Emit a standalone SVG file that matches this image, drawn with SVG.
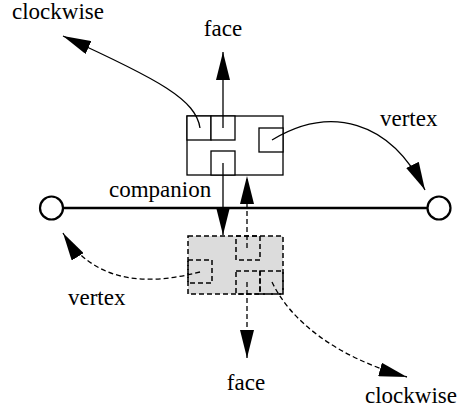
<svg xmlns="http://www.w3.org/2000/svg" width="460" height="411" viewBox="0 0 460 411">
  <style>
    .box { fill: #fff; stroke: #000; stroke-width: 1.3; }
    .dbox { fill: #dcdcdc; stroke: #000; stroke-width: 1.5; stroke-dasharray: 5,3; }
    .dsub { fill: none; stroke: #000; stroke-width: 1.5; stroke-dasharray: 5,3; }
    .edge { fill: none; stroke: #000; stroke-width: 1.3; }
    .dash { stroke-dasharray: 5,3; }
    .axis { stroke: #000; stroke-width: 2.5; }
    .end { fill: #fff; stroke: #000; stroke-width: 2.2; }
  </style>
  <defs>
    <marker id="arrow" markerUnits="userSpaceOnUse" markerWidth="28" markerHeight="14" refX="28" refY="7" orient="auto" viewBox="0 0 28 14">
      <path d="M0,0 L28,7 L0,14 Z" fill="#000"/>
    </marker>
  </defs>

  <g id="edge-line">
    <line class="axis" x1="63" y1="208" x2="427" y2="208"/>
  </g>
  <g id="vertex-left">
    <circle class="end" cx="51.5" cy="208" r="11.5"/>
  </g>
  <g id="vertex-right">
    <circle class="end" cx="439" cy="208" r="11.5"/>
  </g>

  <g id="halfedge-top">
    <rect class="box" x="187" y="116" width="96" height="59"/>
    <rect class="box" x="187" y="116" width="24" height="24"/>
    <rect class="box" x="211" y="116" width="24" height="24"/>
    <rect class="box" x="211" y="151" width="24" height="24"/>
    <rect class="box" x="259" y="128" width="24" height="24"/>
  </g>

  <g id="halfedge-bottom">
    <rect class="dbox" x="188" y="236" width="95" height="58"/>
    <rect class="dsub" x="236" y="236" width="24" height="24"/>
    <rect class="dsub" x="188" y="260" width="24" height="23"/>
    <rect class="dsub" x="236" y="271" width="24" height="23"/>
    <rect class="dsub" x="260" y="271" width="23" height="23"/>
  </g>

  <g id="connectors">
    <path class="edge" d="M200,128 C196,100 160,80 63,36" marker-end="url(#arrow)"/>
    <line class="edge" x1="223" y1="128" x2="223" y2="52" marker-end="url(#arrow)"/>
    <path class="edge" d="M272,140 C330,105 390,120 425,190" marker-end="url(#arrow)"/>
    <line class="edge" x1="223" y1="163" x2="223" y2="235" marker-end="url(#arrow)"/>
    <line class="edge dash" x1="247" y1="248" x2="247" y2="176" marker-end="url(#arrow)"/>
    <path class="edge dash" d="M200,272 C150,285 95,285 63,233" marker-end="url(#arrow)"/>
    <line class="edge dash" x1="247" y1="282" x2="247" y2="358" marker-end="url(#arrow)"/>
    <path class="edge dash" d="M272,282 C290,320 335,357 407,377" marker-end="url(#arrow)"/>
  </g>

  <g id="labels" font-family="'Liberation Serif', 'DejaVu Serif', serif" font-size="23" fill="#000">
    <text x="12" y="19">clockwise</text>
    <text x="223" y="36" text-anchor="middle">face</text>
    <text x="380" y="126">vertex</text>
    <text x="109" y="197">companion</text>
    <text x="68" y="305">vertex</text>
    <text x="246" y="390" text-anchor="middle">face</text>
    <text x="365" y="403">clockwise</text>
  </g>
</svg>
